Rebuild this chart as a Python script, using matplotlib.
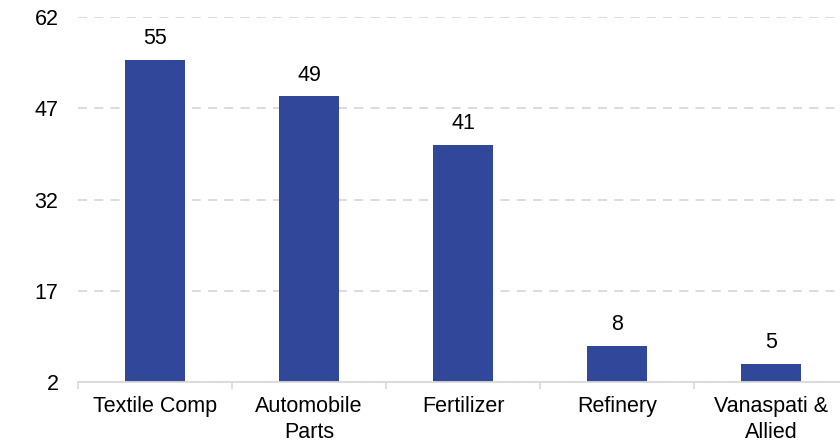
import matplotlib.pyplot as plt
from matplotlib.ticker import FixedLocator

plt.rcParams['font.family'] = ['Liberation Sans', 'DejaVu Sans']

categories = ['Textile Comp', 'Automobile\nParts', 'Fertilizer', 'Refinery', 'Vanaspati &\nAllied']
values = [55, 49, 41, 8, 5]
yticks = [2, 17, 32, 47, 62]

bar_color = '#31479A'
grid_color = '#D9D9D9'

fig = plt.figure(figsize=(8.4, 4.43), dpi=100)
ax = fig.add_axes([78 / 840, 61 / 443, 770 / 840, 365 / 443])

x = list(range(len(categories)))
bars = ax.bar(x, values, width=0.39, color=bar_color, zorder=3)

for b, v in zip(bars, values):
    ax.annotate(str(v), (b.get_x() + b.get_width() / 2, v),
                xytext=(0, 7.5), textcoords='offset points',
                ha='center', va='bottom', fontsize=15.5, color='black')

ax.set_xlim(-0.5, len(categories) - 0.5)
ax.set_ylim(2, 62)
ax.set_yticks(yticks)
ax.set_xticks(x)
ax.set_xticklabels(categories, fontsize=15.5, linespacing=1.3)
ax.xaxis.set_minor_locator(FixedLocator([i - 0.5 for i in range(len(categories) + 1)]))
ax.tick_params(axis='x', which='major', length=0, pad=10)
ax.tick_params(axis='x', which='minor', length=5, width=1.2, color=grid_color)
ax.tick_params(axis='y', length=0, pad=14, labelsize=15.5)

ax.grid(axis='y', linestyle=(0, (5, 4)), color=grid_color, linewidth=1.3, zorder=0)
for s in ['top', 'right', 'left']:
    ax.spines[s].set_visible(False)
ax.spines['bottom'].set_color(grid_color)
ax.spines['bottom'].set_linewidth(1.3)
ax.spines['bottom'].set_zorder(4)

fig.savefig('out.png', dpi=100)
